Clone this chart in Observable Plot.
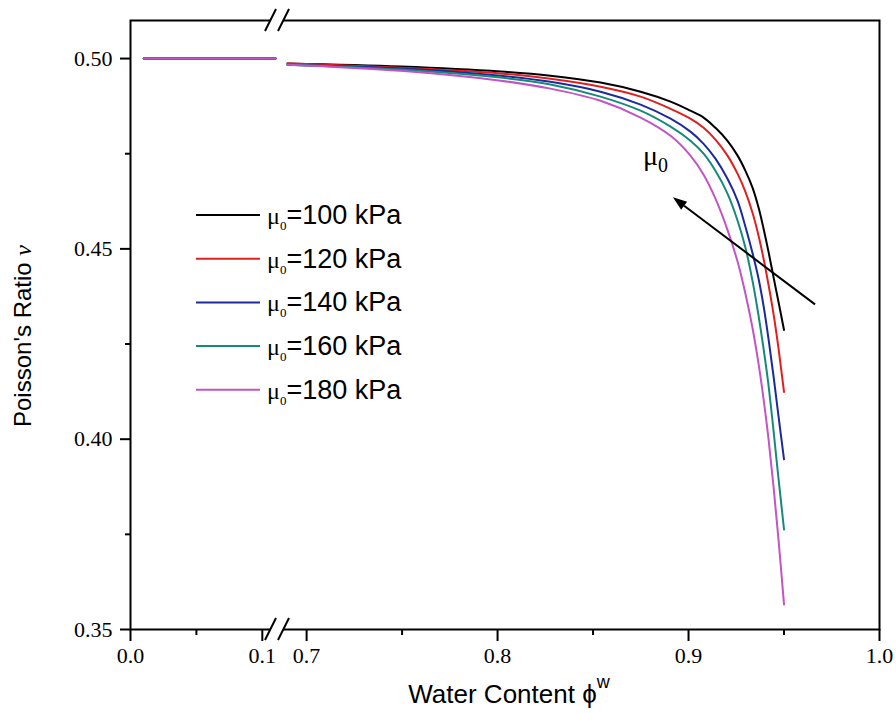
<!DOCTYPE html>
<html><head><meta charset="utf-8">
<script src="https://cdn.jsdelivr.net/npm/d3@7"></script>
<script src="https://cdn.jsdelivr.net/npm/@observablehq/plot@0.6"></script>
<style>body{margin:0;background:#fff;}</style>
</head><body><div id="chart"></div>
<script>
// ---- data ----
const seriesLabels = ["100", "120", "140", "160", "180"];
const seriesColors = ["#000000", "#e0201e", "#1c2a9c", "#158a78", "#c254c4"];

// low water-content segment (left of the axis break)
const phiLow = [0.01, 0.11];
const nuLow = [0.5, 0.5];

// high water-content segment (right of the axis break)
const phi100 = [0.69, 0.7492, 0.8016, 0.8277, 0.8539, 0.8749, 0.8906, 0.9010, 0.9079, 0.9141, 0.9204, 0.9257, 0.9298, 0.9335, 0.9367, 0.9393, 0.9419, 0.9445, 0.9471, 0.95];
const nu100  = [0.4987, 0.4979, 0.4966, 0.4955, 0.4937, 0.4913, 0.4887, 0.4863, 0.4845, 0.4818, 0.4784, 0.4745, 0.4705, 0.4661, 0.4608, 0.4553, 0.4492, 0.4426, 0.4361, 0.4287];
const phi120 = [0.69, 0.7492, 0.8016, 0.8277, 0.8539, 0.8749, 0.8906, 0.9010, 0.9079, 0.9141, 0.9204, 0.9257, 0.9298, 0.9335, 0.9367, 0.9393, 0.9419, 0.9445, 0.9471, 0.95];
const nu120  = [0.4987, 0.4976, 0.4961, 0.4947, 0.4926, 0.4900, 0.4868, 0.4842, 0.4818, 0.4787, 0.4745, 0.4697, 0.4650, 0.4595, 0.4534, 0.4474, 0.4405, 0.4329, 0.4239, 0.4124];
const phi140 = [0.69, 0.7492, 0.8016, 0.8277, 0.8539, 0.8749, 0.8906, 0.9010, 0.9079, 0.9141, 0.9204, 0.9257, 0.9298, 0.9335, 0.9367, 0.9393, 0.9419, 0.9445, 0.9471, 0.95];
const nu140  = [0.4984, 0.4974, 0.4955, 0.4939, 0.4913, 0.4879, 0.4842, 0.4808, 0.4776, 0.4737, 0.4684, 0.4626, 0.4558, 0.4489, 0.4421, 0.4350, 0.4263, 0.4166, 0.4061, 0.3947];
const phi160 = [0.69, 0.7492, 0.8016, 0.8277, 0.8539, 0.8749, 0.8906, 0.9010, 0.9079, 0.9141, 0.9204, 0.9257, 0.9298, 0.9335, 0.9361, 0.9387, 0.9414, 0.9440, 0.9466, 0.95];
const nu160  = [0.4984, 0.4971, 0.4950, 0.4932, 0.4900, 0.4863, 0.4821, 0.4784, 0.4750, 0.4705, 0.4645, 0.4574, 0.4503, 0.4416, 0.4342, 0.4258, 0.4161, 0.4047, 0.3921, 0.3763];
const phi180 = [0.69, 0.7492, 0.8016, 0.8277, 0.8539, 0.8749, 0.8906, 0.9010, 0.9079, 0.9141, 0.9204, 0.9257, 0.9298, 0.9335, 0.9367, 0.9393, 0.9419, 0.9445, 0.9471, 0.95];
const nu180  = [0.4984, 0.4968, 0.4942, 0.4921, 0.4889, 0.4845, 0.4797, 0.4745, 0.4695, 0.4632, 0.4550, 0.4466, 0.4382, 0.4292, 0.4197, 0.4105, 0.4000, 0.3876, 0.3737, 0.3566];

const xMajor = [0, 0.1, 0.7, 0.8, 0.9, 1.0];
const xMinor = [0.05, 0.75, 0.85, 0.95];
const yMajor = [0.35, 0.40, 0.45, 0.50];
const yMinor = [0.375, 0.425, 0.475];
const xBreak = [0.11, 0.69];

// annotation (data units)
const arrowTail = [0.9665, 0.4353];
const arrowHead = [0.8921, 0.4634];
const muLabelAt = [0.8764, 0.4718];

// ---- build table ----
const highPhi = [phi100, phi120, phi140, phi160, phi180];
const highNu = [nu100, nu120, nu140, nu160, nu180];
const rows = [];
seriesLabels.forEach((s, i) => {
  phiLow.forEach((p, j) => rows.push({mu: s, seg: "low", phi: p, nu: nuLow[j]}));
  highPhi[i].forEach((p, j) => rows.push({mu: s, seg: "high", phi: p, nu: highNu[i][j]}));
});

// ---- layout ----
const W = 896, H = 713;
const mL = 130, mT = 20, mR = 17, mB = 84;
const leftSpan = 145, gap = 12;
const serif = "'Liberation Serif', 'Times New Roman', serif";
const sans = "'Liberation Sans', Arial, sans-serif";

const chart = Plot.plot({
  width: W, height: H,
  marginLeft: mL, marginTop: mT, marginRight: mR, marginBottom: mB,
  style: {fontFamily: serif, fontSize: "22px", background: "#fff", color: "#000"},
  x: {type: "linear", domain: [0, xBreak[0], xBreak[1], 1.0],
      range: [mL, mL + leftSpan, mL + leftSpan + gap, W - mR]},
  y: {domain: [0.35, 0.51]},
  color: {domain: seriesLabels, range: seriesColors},
  marks: [
    Plot.line(rows, {x: "phi", y: "nu", z: d => d.mu + d.seg, stroke: "mu", strokeWidth: 2, curve: "catmull-rom"}),
    Plot.axisX({ticks: xMajor, tickFormat: d => d.toFixed(1), tickSize: 12, tickPadding: 6, strokeWidth: 2, fontSize: 22, label: null}),
    Plot.axisX({ticks: xMinor, tickFormat: () => "", tickSize: 6, strokeWidth: 2, label: null}),
    Plot.axisY({ticks: yMajor, tickFormat: d => d.toFixed(2), tickSize: 10, tickPadding: 8, strokeWidth: 2, fontSize: 22, label: null}),
    Plot.axisY({ticks: yMinor, tickFormat: () => "", tickSize: 5, strokeWidth: 2, label: null}),
    Plot.frame({stroke: "#000", strokeWidth: 2})
  ]
});
document.getElementById("chart").appendChild(chart);

// ---- decorations ----
const svg = d3.select(chart);
const X = v => chart.scale("x").apply(v);
const Y = v => chart.scale("y").apply(v);

// axis break marks
const cx = (X(xBreak[0]) + X(xBreak[1])) / 2 - 4;
[mT, H - mB].forEach(yy => {
  const g = svg.append("g");
  const h = 11, dxs = 5.5, sep = 6.5;
  g.append("path")
    .attr("d", `M${cx - sep - dxs},${yy + h} L${cx - sep + dxs},${yy - h} L${cx + sep + dxs},${yy - h} L${cx + sep - dxs},${yy + h}Z`)
    .attr("fill", "#fff");
  [-sep, sep].forEach(o => {
    g.append("line")
      .attr("x1", cx + o - dxs).attr("y1", yy + h)
      .attr("x2", cx + o + dxs).attr("y2", yy - h)
      .attr("stroke", "#000").attr("stroke-width", 2);
  });
});

// arrow + label
{
  const x1 = X(arrowTail[0]), y1 = Y(arrowTail[1]);
  const x2 = X(arrowHead[0]), y2 = Y(arrowHead[1]);
  const a = Math.atan2(y2 - y1, x2 - x1);
  const L = 14, Wd = 5;
  const bx = x2 - L * Math.cos(a), by = y2 - L * Math.sin(a);
  svg.append("line").attr("x1", x1).attr("y1", y1).attr("x2", bx).attr("y2", by)
    .attr("stroke", "#000").attr("stroke-width", 2);
  svg.append("path")
    .attr("d", `M${x2},${y2} L${bx + Wd * Math.sin(a)},${by - Wd * Math.cos(a)} L${bx - Wd * Math.sin(a)},${by + Wd * Math.cos(a)}Z`)
    .attr("fill", "#000");
  const t = svg.append("text").attr("x", X(muLabelAt[0])).attr("y", Y(muLabelAt[1]))
    .attr("text-anchor", "start")
    .style("font-family", serif).style("font-size", "28px");
  t.append("tspan").text("μ");
  t.append("tspan").attr("dy", 7).style("font-size", "20px").text("0");
}

// legend
{
  const lx0 = 196, lx1 = 260, ly0 = 215, step = 43.7;
  const g = svg.append("g").attr("text-anchor", "start");
  seriesLabels.forEach((s, i) => {
    const yy = ly0 + i * step;
    g.append("line").attr("x1", lx0).attr("x2", lx1).attr("y1", yy).attr("y2", yy)
      .attr("stroke", seriesColors[i]).attr("stroke-width", 2);
    const t = g.append("text").attr("x", 267).attr("y", yy + 9)
      .attr("text-anchor", "start")
      .style("font-family", sans).style("font-size", "27px");
    t.append("tspan").style("font-family", serif).style("font-size", "24px").text("μ");
    t.append("tspan").attr("dy", 6).style("font-family", serif).style("font-size", "13px").text("0");
    t.append("tspan").attr("dy", -6).text("=" + s + " kPa");
  });
}

// axis titles
{
  const t = svg.append("text").attr("transform", "translate(31,336) rotate(-90)")
    .attr("text-anchor", "middle")
    .style("font-family", sans).style("font-size", "24px");
  t.append("tspan").text("Poisson's Ratio ");
  t.append("tspan").style("font-family", serif).style("font-style", "italic").text("ν");

  const tx = svg.append("text").attr("x", 509).attr("y", 703).attr("text-anchor", "middle")
    .style("font-family", sans).style("font-size", "26px");
  tx.append("tspan").text("Water Content ϕ");
  tx.append("tspan").attr("dy", -15).style("font-size", "18px").text("w");
}
</script>
</body></html>
